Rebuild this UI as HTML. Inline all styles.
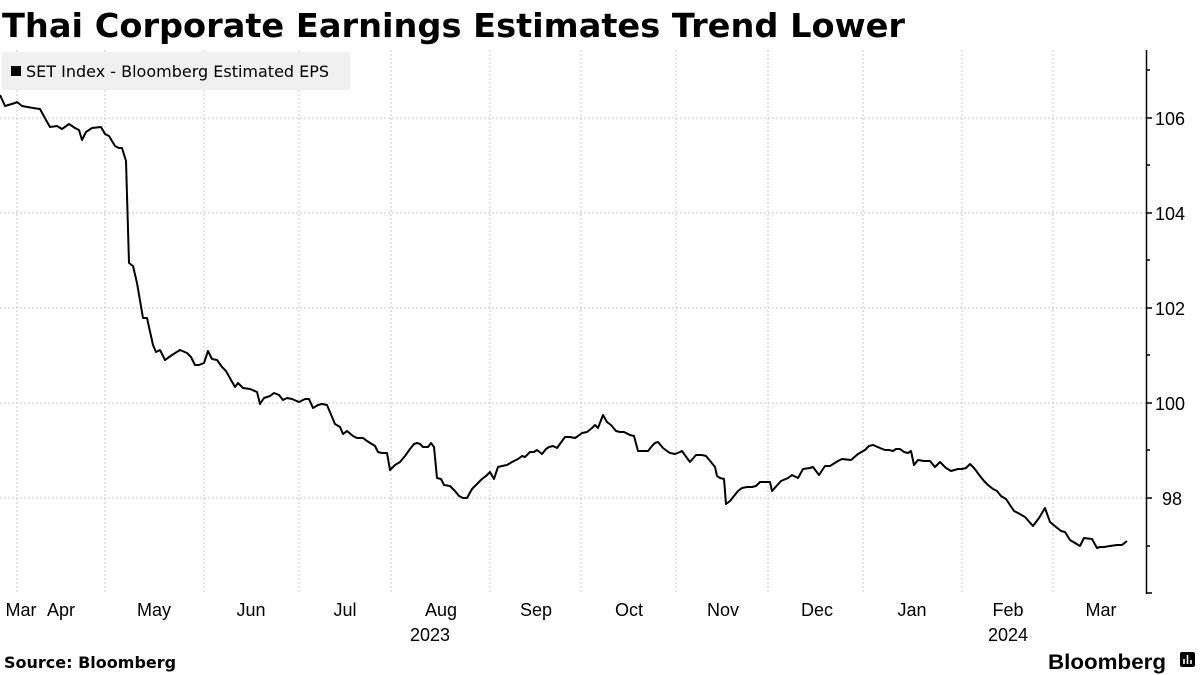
<!DOCTYPE html>
<html><head><meta charset="utf-8"><style>
html,body{margin:0;padding:0;background:#fff;}
svg{display:block;}
</style></head><body>
<svg width="1200" height="675" viewBox="0 0 1200 675" xmlns="http://www.w3.org/2000/svg" font-family="'DejaVu Sans','Liberation Sans',sans-serif">
<text x="2" y="37" font-size="33" font-weight="bold" fill="#000" textLength="903" lengthAdjust="spacingAndGlyphs">Thai Corporate Earnings Estimates Trend Lower</text>
<g stroke="#c8c8c8" stroke-width="1" stroke-dasharray="2,2">
<line x1="0" y1="118" x2="1146" y2="118"/><line x1="0" y1="213" x2="1146" y2="213"/><line x1="0" y1="308" x2="1146" y2="308"/><line x1="0" y1="403" x2="1146" y2="403"/><line x1="0" y1="498" x2="1146" y2="498"/>
<line x1="17" y1="50" x2="17" y2="594"/><line x1="105" y1="50" x2="105" y2="594"/><line x1="204" y1="50" x2="204" y2="594"/><line x1="299" y1="50" x2="299" y2="594"/><line x1="391" y1="50" x2="391" y2="594"/><line x1="490" y1="50" x2="490" y2="594"/><line x1="581" y1="50" x2="581" y2="594"/><line x1="676" y1="50" x2="676" y2="594"/><line x1="768" y1="50" x2="768" y2="594"/><line x1="863" y1="50" x2="863" y2="594"/><line x1="962" y1="50" x2="962" y2="594"/><line x1="1053" y1="50" x2="1053" y2="594"/>
</g>
<rect x="2" y="52" width="348" height="38" rx="2" fill="#f0f0f0"/>
<rect x="11" y="66" width="10" height="10" fill="#000"/>
<text x="26" y="77" font-size="16" fill="#000">SET Index - Bloomberg Estimated EPS</text>
<g stroke="#000" stroke-width="1.5">
<line x1="1146.5" y1="50" x2="1146.5" y2="594"/>
<line x1="1146" y1="118" x2="1152" y2="118"/><line x1="1146" y1="213" x2="1152" y2="213"/><line x1="1146" y1="308" x2="1152" y2="308"/><line x1="1146" y1="403" x2="1152" y2="403"/><line x1="1146" y1="498" x2="1152" y2="498"/>
<line x1="1146" y1="70" x2="1150" y2="70"/><line x1="1146" y1="165" x2="1150" y2="165"/><line x1="1146" y1="260" x2="1150" y2="260"/><line x1="1146" y1="355" x2="1150" y2="355"/><line x1="1146" y1="450" x2="1150" y2="450"/><line x1="1146" y1="546" x2="1150" y2="546"/><line x1="1146" y1="593" x2="1152" y2="593"/>
</g>
<g font-size="18" fill="#000" font-family="'Liberation Sans',sans-serif">
<text x="1155" y="125">106</text><text x="1155" y="220">104</text><text x="1155" y="315">102</text><text x="1155" y="410">100</text><text x="1162" y="505">98</text>
</g>
<g font-size="18" fill="#000" font-family="'Liberation Sans',sans-serif" text-anchor="middle">
<text x="21" y="616">Mar</text><text x="61" y="616">Apr</text><text x="154" y="616">May</text><text x="251" y="616">Jun</text><text x="345" y="616">Jul</text><text x="441" y="616">Aug</text><text x="536" y="616">Sep</text><text x="629" y="616">Oct</text><text x="723" y="616">Nov</text><text x="817" y="616">Dec</text><text x="912" y="616">Jan</text><text x="1008" y="616">Feb</text><text x="1101" y="616">Mar</text>
<text x="430" y="641">2023</text><text x="1008" y="641">2024</text>
</g>
<polyline fill="none" stroke="#000" stroke-width="2" stroke-linejoin="round" points="0,95 5,106 15,103 17,102 22,106 33,108 40,109 46,120 50,127 57,126 62,129 69,124 75,128 79,130 82,140 86,132 92,128 101,127 105,134 109,136 115,146 119,148 122,148 126,161 129,263 133,266 137,283 143,318 147,318 153,345 156,352 160,350 165,360 172,355 180,350 187,353 191,357 195,365 199,365 204,363 208,351 212,359 217,360 222,367 226,371 231,380 235,387 238,383 243,388 250,389 257,392 260,404 264,398 270,396 274,393 279,395 283,400 287,398 292,399 299,402 305,399 309,399 313,408 318,405 322,404 327,405 335,424 340,427 343,434 347,431 353,436 357,438 363,438 367,441 375,446 378,452 382,453 387,453 390,470 395,465 400,462 405,456 410,449 414,444 417,443 420,444 423,447 428,447 431,443 434,447 437,478 441,479 444,485 450,486 455,491 459,496 463,498 467,498 472,489 478,483 482,479 486,476 490,472 494,479 498,467 502,466 507,465 512,462 518,459 522,456 525,457 530,452 534,452 537,450 542,454 546,449 549,447 553,446 557,448 565,437 570,437 575,438 578,436 582,433 587,432 592,428 595,425 598,428 603,415 607,422 611,425 616,431 620,432 624,432 630,435 634,436 638,451 645,451 648,451 652,446 655,443 658,442 663,448 667,451 670,453 675,454 680,452 682,451 687,458 690,462 696,455 702,455 706,456 711,462 715,467 717,476 720,478 724,479 726,504 730,501 734,496 738,491 742,488 747,487 752,487 756,486 760,482 765,482 770,482 772,491 781,481 788,478 792,475 798,478 803,469 810,468 813,467 819,475 825,466 830,466 838,461 842,459 851,460 858,454 865,450 869,446 873,445 880,448 885,450 889,450 893,451 896,449 900,449 904,452 908,453 911,451 914,465 918,460 924,461 930,461 935,467 940,462 946,468 951,471 958,469 962,469 966,468 970,464 974,468 980,476 984,481 988,485 993,489 997,491 1001,496 1006,499 1014,511 1018,513 1025,517 1033,526 1039,518 1045,508 1050,522 1056,527 1061,531 1065,532 1070,540 1075,543 1080,546 1084,538 1092,539 1097,548 1100,547 1104,547 1110,546 1117,545 1122,545 1127,541"/>
<text x="4" y="668" font-size="16" font-weight="bold" fill="#000">Source: Bloomberg</text>
<text x="1048" y="669" font-size="21" font-weight="bold" fill="#000" font-family="'Liberation Sans',sans-serif" textLength="118" lengthAdjust="spacingAndGlyphs">Bloomberg</text>
<rect x="1180" y="652" width="15" height="15" rx="2" fill="#000"/>
<g stroke="#fff" stroke-width="1.6"><line x1="1184" y1="664" x2="1184" y2="659"/><line x1="1187.5" y1="664" x2="1187.5" y2="655"/><line x1="1191" y1="664" x2="1191" y2="660"/></g>
</svg>
</body></html>
